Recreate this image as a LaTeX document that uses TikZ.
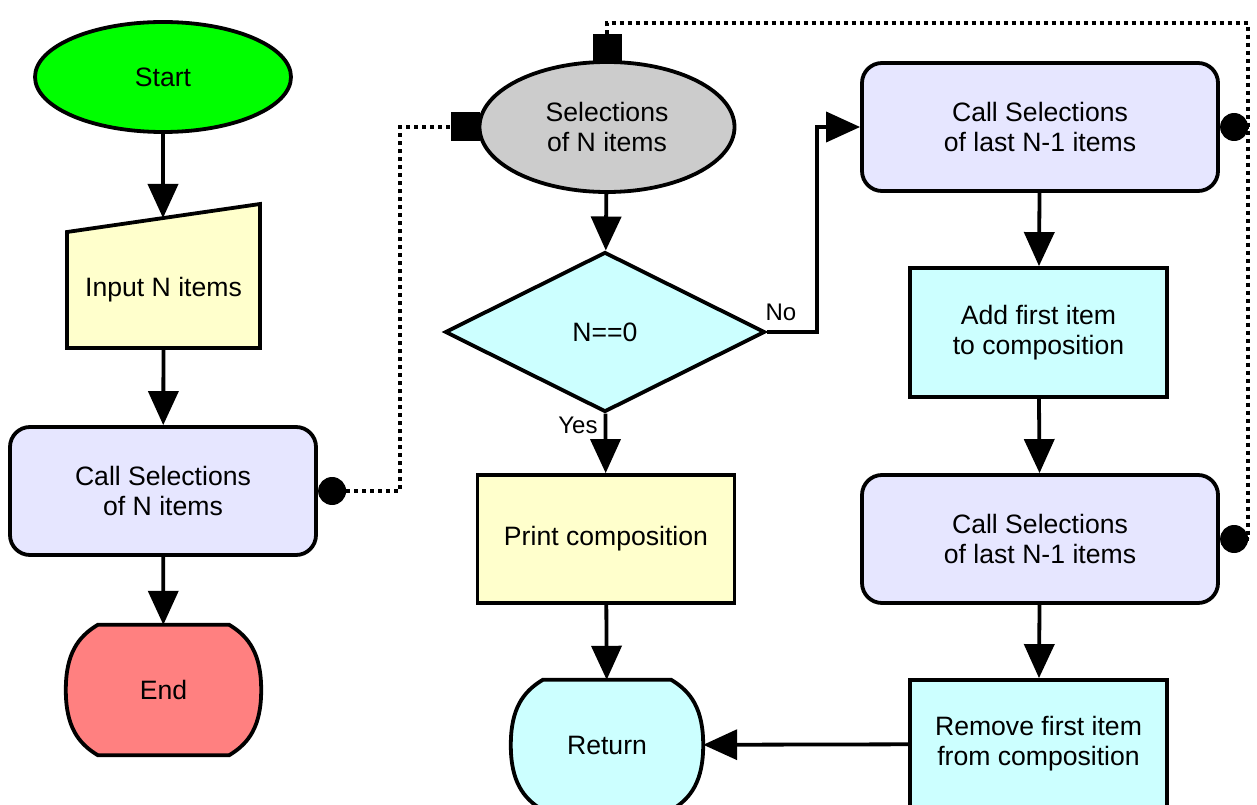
\documentclass[tikz,border=0pt]{standalone}
\usepackage{fontspec}
\setmainfont{Liberation Sans}
\usetikzlibrary{shapes.geometric,arrows.meta,calc}
\definecolor{startc}{HTML}{00FF00}
\definecolor{yellowc}{HTML}{FFFFCC}
\definecolor{callc}{HTML}{E6E6FF}
\definecolor{grayc}{HTML}{CCCCCC}
\definecolor{cyanc}{HTML}{CCFFFF}
\definecolor{endc}{HTML}{FF8080}
\newcommand\barrelpath[2]{%
  \filldraw[fill=#2,line width=3.8pt]
    ($(#1.north west)+(32,0)$) -- ($(#1.north east)+(-32,0)$)
    .. controls ($(#1.north east)+(-12,12)$) and ($(#1.east)+(0,-36)$) .. (#1.east)
    .. controls ($(#1.east)+(0,36)$) and ($(#1.south east)+(-12,-12)$) .. ($(#1.south east)+(-32,0)$)
    -- ($(#1.south west)+(32,0)$)
    .. controls ($(#1.south west)+(12,-12)$) and ($(#1.west)+(0,36)$) .. (#1.west)
    .. controls ($(#1.west)+(0,-36)$) and ($(#1.north west)+(12,12)$) .. cycle;}
\begin{document}
\begin{tikzpicture}[x=1pt,y=-1pt,
  font=\fontsize{26.6}{30}\selectfont,
  lw/.style={line width=3.8pt},
  every node/.style={align=center,inner sep=0pt},
  ell/.style={ellipse,draw,lw},
  callbox/.style={draw,lw,fill=callc,rounded corners=20pt,minimum width=356pt,minimum height=128pt},
  procbox/.style={draw,lw,rectangle,minimum width=257pt,minimum height=128pt},
  dotc/.style={circle,fill=black,minimum size=28pt,anchor=west},
  sqm/.style={rectangle,fill=black,minimum size=29pt},
  arr/.style={lw,-{Triangle[length=34pt,width=30pt]}},
  dotline/.style={line width=4pt,dash pattern=on 4pt off 4pt},
  lbl/.style={font=\fontsize{24}{28}\selectfont}]
\useasboundingbox (0,0) rectangle (1257,805);

% shapes drawn as paths (behind their text nodes)
\filldraw[lw,fill=yellowc] (67,232) -- (260,204) -- (260,348) -- (67,348) -- cycle;
\path node[minimum width=195pt,minimum height=130pt] (endn) at (163.5,690) {};
\barrelpath{endn}{endc}
\path node[minimum width=192pt,minimum height=130pt] (ret) at (607,745) {};
\barrelpath{ret}{cyanc}

% left column
\node[ell,fill=startc,minimum width=256pt,minimum height=110pt] (start) at (163,77) {Start};
\node[minimum width=193pt,minimum height=116pt] (inp) at (163.5,290) {Input N items};
\coordinate (inptop) at (163,218);
\node[callbox,minimum width=306pt] (callN) at (163,491) {Call Selections\\of N items};
\node[dotc] (d1) at (callN.east) {};
\node (endt) at (endn.center) {End};

% middle column
\node[ell,fill=grayc,minimum width=255pt,minimum height=130pt] (sel) at (607,127) {Selections\\of N items};
\node[sqm] (sqL) at (465,127) {};
\node[sqm] (sqT) at (607,49) {};
\node[diamond,draw,lw,fill=cyanc,aspect=2,minimum width=320pt,minimum height=160pt] (cond) at (605,332) {N==0};
\node[procbox,fill=yellowc] (print) at (606,539) {Print composition};
\node (rett) at (ret.center) {Return};

% right column
\node[callbox] (call1) at (1040,127) {Call Selections\\of last N-1 items};
\node[dotc] (d2) at (call1.east) {};
\node[procbox,fill=cyanc,minimum height=129pt] (add) at (1038.5,332.5) {Add first item\\to composition};
\node[callbox] (call2) at (1040,539) {Call Selections\\of last N-1 items};
\node[dotc] (d3) at (call2.east) {};
\node[procbox,fill=cyanc] (rem) at (1038.5,744) {Remove first item\\from composition};

% connectors
\draw[arr] (start) -- (inptop);
\draw[arr] (inp.south) -- (callN);
\draw[arr] (callN) -- (endn);
\draw[arr] (sel) -- (cond);
\draw[arr] (cond) -- (print) node[pos=0.2,left=6pt,lbl] (yes) {Yes};
\draw[arr] (cond.east) -- ++(50,0) coordinate (nob) |- (call1);
\node[lbl] (no) at (781,312) {No};
\draw[arr] (print) -- (ret);
\draw[arr] (call1) -- (add);
\draw[arr] (add) -- (call2);
\draw[arr] (call2) -- (rem);
\draw[arr] (rem) -- (ret);

% dotted links
\coordinate (rt) at (1248,23);
\draw[dotline] (d1.east) -- ++(54,0) |- (sqL.west);
\draw[dotline] (sqT.north) |- (rt) |- (d3.east);
\draw[dotline] (d2.east) -- (d2.east -| rt);
\end{tikzpicture}
\end{document}
